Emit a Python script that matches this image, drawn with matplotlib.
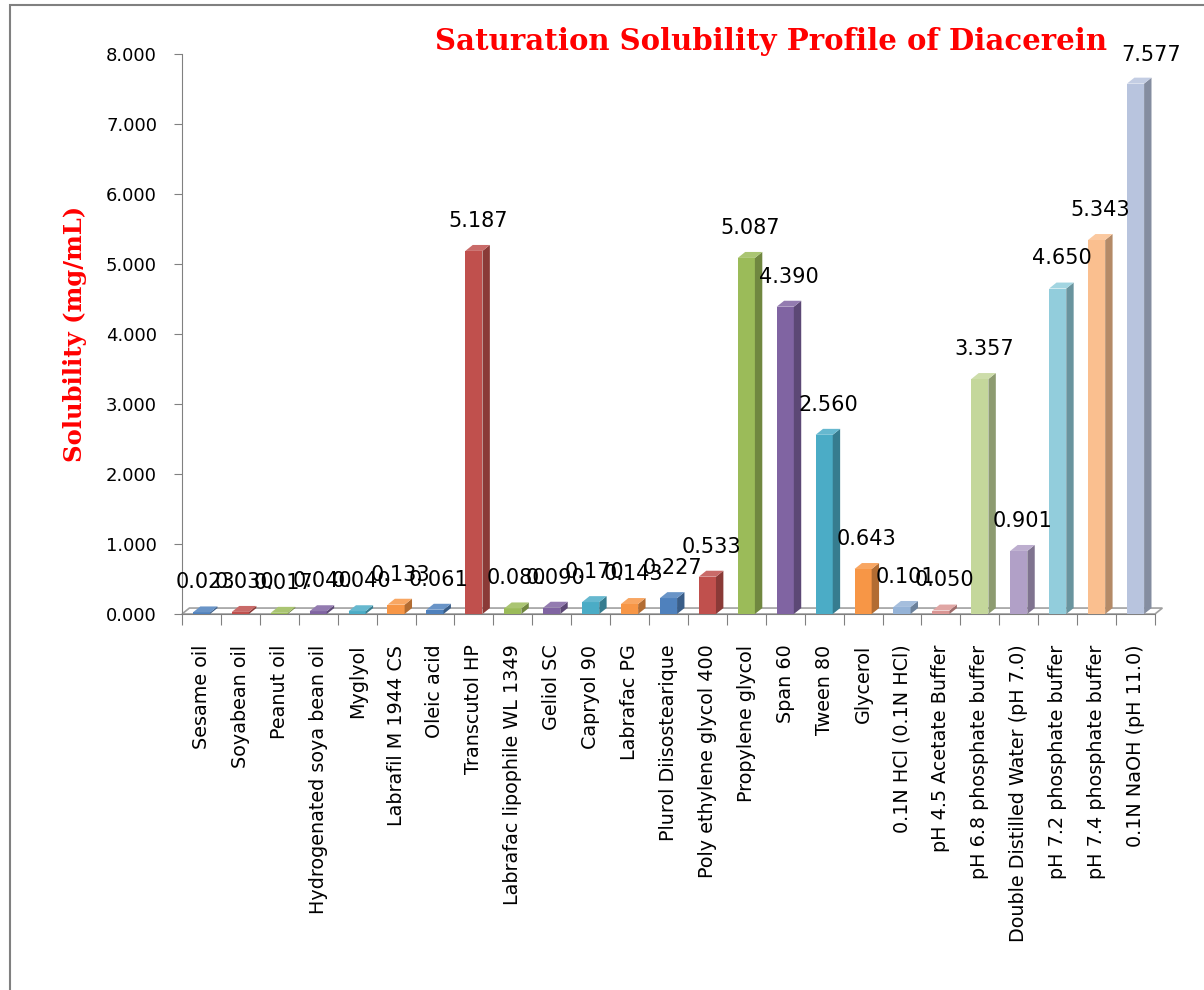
import matplotlib.pyplot as plt
import matplotlib.patches as mpatches
from matplotlib.colors import to_rgb

categories = ['Sesame oil', 'Soyabean oil', 'Peanut oil', 'Hydrogenated soya bean oil', 'Myglyol',
              'Labrafil M 1944 CS', 'Oleic acid', 'Transcutol HP', 'Labrafac lipophile WL 1349',
              'Geliol SC', 'Capryol 90', 'Labrafac PG', 'Plurol Diisostearique',
              'Poly ethylene glycol 400', 'Propylene glycol', 'Span 60', 'Tween 80', 'Glycerol',
              '0.1N HCl (0.1N HCl)', 'pH 4.5 Acetate Buffer', 'pH 6.8 phosphate buffer',
              'Double Distilled Water (pH 7.0)', 'pH 7.2 phosphate buffer',
              'pH 7.4 phosphate buffer', '0.1N NaOH (pH 11.0)']
solubility = [0.023, 0.030, 0.017, 0.040, 0.040, 0.133, 0.061, 5.187, 0.080, 0.090, 0.170, 0.143,
              0.227, 0.533, 5.087, 4.390, 2.560, 0.643, 0.101, 0.050, 3.357, 0.901, 4.650, 5.343,
              7.577]
colors = ['#4F81BD', '#C0504D', '#9BBB59', '#8064A2', '#4BACC6', '#F79646',
          '#4F81BD', '#C0504D', '#9BBB59', '#8064A2', '#4BACC6', '#F79646',
          '#4F81BD', '#C0504D', '#9BBB59', '#8064A2', '#4BACC6', '#F79646',
          '#95B3D7', '#DA9694', '#C4D79B', '#B1A0C7', '#92CDDC', '#FABF8F', '#B8C4DE']


def shade(c, f):
    r, g, b = to_rgb(c)
    if f < 1:
        return (r * f, g * f, b * f)
    return (r + (1 - r) * (f - 1), g + (1 - g) * (f - 1), b + (1 - b) * (f - 1))


fig = plt.figure(figsize=(12.04, 9.9), dpi=100)
ax = fig.add_axes([182 / 1204, 376 / 990, 973 / 1204, 560 / 990])

n = len(categories)
x = list(range(n))
w = 0.44
dx, dy = 0.19, 0.085

# floor
floor = mpatches.Polygon([(-0.5, 0), (n - 0.5, 0), (n - 0.5 + dx, dy), (-0.5 + dx, dy)],
                         closed=True, facecolor='white', edgecolor='#A0A0A0', lw=1.2,
                         clip_on=False, zorder=1)
ax.add_patch(floor)

bars = ax.bar(x, solubility, width=w, color=colors, zorder=3, clip_on=False)
for b, c in zip(bars, colors):
    x0 = b.get_x()
    x1 = x0 + b.get_width()
    h = b.get_height()
    side = mpatches.Polygon([(x1, 0), (x1 + dx, dy), (x1 + dx, h + dy), (x1, h)], closed=True,
                            facecolor=shade(c, 0.72), edgecolor='none', zorder=3, clip_on=False)
    top = mpatches.Polygon([(x0, h), (x1, h), (x1 + dx, h + dy), (x0 + dx, h + dy)], closed=True,
                           facecolor=shade(c, 1.15), edgecolor='none', zorder=3, clip_on=False)
    ax.add_patch(side)
    ax.add_patch(top)

for xi, v in zip(x, solubility):
    ypos = min(v + 0.43, 7.99)
    xpos = xi + 0.1 if v + 0.43 < 7.99 else xi + 0.4
    ax.text(xpos, ypos, f'{v:.3f}', ha='center', va='center', fontsize=15,
            family='DejaVu Sans', zorder=5, clip_on=False)

ax.set_xlim(-0.5, n - 0.5)
ax.set_ylim(0, 8)
ax.set_yticks([0, 1, 2, 3, 4, 5, 6, 7, 8])
ax.set_yticklabels([f'{t:.3f}' for t in range(9)], fontsize=13)
ax.set_xticks([i - 0.5 for i in range(n + 1)], minor=False)
ax.set_xticklabels([])
ax.set_xticks(x, minor=True)
ax.set_xticklabels(categories, minor=True, rotation=90, fontsize=13.8)
ax.tick_params(axis='x', which='minor', length=0, pad=22)
ax.tick_params(axis='x', which='major', length=8, color='#808080', direction='out')
ax.tick_params(axis='y', length=6, color='#808080', direction='out', pad=12)
for s in ['top', 'right']:
    ax.spines[s].set_visible(False)
ax.spines['left'].set_color('#808080')
ax.spines['bottom'].set_color('#808080')
ax.patch.set_visible(False)

ax.set_ylabel('Solubility (mg/mL)', color='red', fontsize=17.5, fontweight='bold',
              family='DejaVu Serif', labelpad=14)
fig.text(771 / 1204, 1 - 42 / 990, 'Saturation Solubility Profile of Diacerein', color='red',
         fontsize=21, fontweight='bold', family='DejaVu Serif', ha='center', va='center')

border = mpatches.Rectangle((10 / 1204, -0.1), 1.2, 1.1 - 5 / 990, transform=fig.transFigure,
                            fill=False, edgecolor='#808080', lw=1.5)
fig.patches.append(border)

fig.savefig('out.png', dpi=100)
